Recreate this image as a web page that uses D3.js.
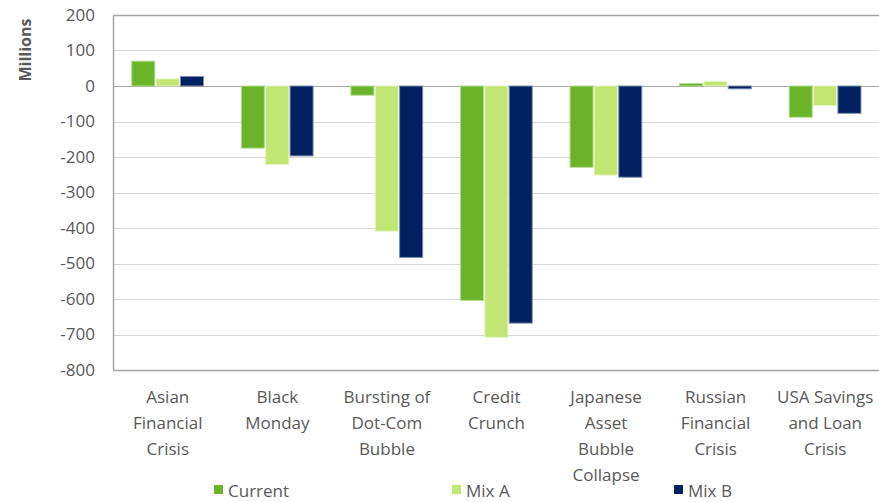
<!DOCTYPE html>
<html>
<head>
<meta charset="utf-8">
<script src="https://cdn.jsdelivr.net/npm/d3@7"></script>
<style>
  body { margin: 0; background: #fff; }
  text { font-family: 'Open Sans', 'Noto Sans', sans-serif; fill: #595959; }
</style>
</head>
<body>
<script>
const categories = ['Asian Financial Crisis', 'Black Monday', 'Bursting of Dot-Com Bubble',
  'Credit Crunch', 'Japanese Asset Bubble Collapse', 'Russian Financial Crisis', 'USA Savings and Loan Crisis']
const labelLines = [
  ['Asian', 'Financial', 'Crisis'],
  ['Black', 'Monday'],
  ['Bursting of', 'Dot-Com', 'Bubble'],
  ['Credit', 'Crunch'],
  ['Japanese', 'Asset', 'Bubble', 'Collapse'],
  ['Russian', 'Financial', 'Crisis'],
  ['USA Savings', 'and Loan', 'Crisis'],
]
const seriesNames = ['Current', 'Mix A', 'Mix B']
const current = [70, -175, -26, -604, -229, 7, -88]
const mixA = [20, -221, -409, -708, -251, 13, -55]
const mixB = [27, -197, -483, -668, -257, -8, -77]
const yTicks = [200, 100, 0, -100, -200, -300, -400, -500, -600, -700, -800]

const colors = ['#6bb42a', '#c2e673', '#002060']
const strokes = ['#b5dc94', '#e4f4c0', '#7f90b0']

const WIDTH = 879
const HEIGHT = 502
const plot = { left: 113, right: 880, top: 15, bottom: 370 }

const svg = d3.select('body')
  .append('svg')
  .attr('width', WIDTH)
  .attr('height', HEIGHT)

const x0 = d3.scaleBand()
  .domain(categories)
  .range([plot.left, plot.right])
  .paddingInner(0.333)
  .paddingOuter(0.1665)

const x1 = d3.scaleBand()
  .domain(seriesNames)
  .range([0, x0.bandwidth()])

const y = d3.scaleLinear()
  .domain([-800, 200])
  .range([plot.bottom, plot.top])

// gridlines
svg.append('g')
  .selectAll('line')
  .data(yTicks)
  .enter()
  .append('line')
  .attr('x1', plot.left)
  .attr('x2', plot.right)
  .attr('y1', d => Math.round(y(d)) + 0.5)
  .attr('y2', d => Math.round(y(d)) + 0.5)
  .attr('stroke', d => (d == 0 || d == 200 || d == -800) ? '#a6a6a6' : '#d9d9d9')
  .attr('stroke-width', d => (d == 200 || d == -800) ? 1.5 : 1)

const yAxis = d3.axisLeft(y)
  .tickValues(yTicks)
  .tickFormat(d => String(d))
  .tickSize(0)
  .tickPadding(18)

svg.append('g')
  .attr('transform', 'translate(' + plot.left + ',0)')
  .call(yAxis)
  .call(g => g.select('.domain').attr('stroke', '#a6a6a6').attr('stroke-width', 1.5))
  .call(g => g.selectAll('text').style('font-size', '17px').attr('fill', '#595959'))

svg.append('text')
  .attr('transform', 'translate(31,50) rotate(-90)')
  .attr('text-anchor', 'middle')
  .style('font-size', '16px')
  .style('font-weight', 'bold')
  .text('Millions')

// bars
const table = categories.map((c, i) => ({
  cat: c,
  values: [current[i], mixA[i], mixB[i]],
}))

const groups = svg.append('g')
  .selectAll('g')
  .data(table)
  .enter()
  .append('g')
  .attr('transform', d => 'translate(' + x0(d.cat) + ',0)')

groups.selectAll('rect')
  .data(d => d.values.map((v, j) => ({ v: v, s: seriesNames[j], j: j })))
  .enter()
  .append('rect')
  .attr('x', d => x1(d.s) + 0.5)
  .attr('width', x1.bandwidth() - 1.3)
  .attr('y', d => y(Math.max(0, d.v)))
  .attr('height', d => Math.abs(y(d.v) - y(0)))
  .attr('fill', d => colors[d.j])
  .attr('stroke', d => strokes[d.j])
  .attr('stroke-width', 1)

// category labels
const labels = svg.append('g')
  .selectAll('text')
  .data(categories)
  .enter()
  .append('text')
  .attr('text-anchor', 'middle')
  .attr('x', d => x0(d) + x0.bandwidth() / 2)
  .attr('y', 403)
  .style('font-size', '17px')

labels.selectAll('tspan')
  .data((d, i) => labelLines[i])
  .enter()
  .append('tspan')
  .attr('x', function () { return this.parentNode.getAttribute('x') })
  .attr('dy', (d, i) => i == 0 ? 0 : 26)
  .text(d => d)

// legend
const legendX = [214, 452, 674]
const legend = svg.append('g')

legend.selectAll('rect')
  .data(seriesNames)
  .enter()
  .append('rect')
  .attr('x', (d, i) => legendX[i])
  .attr('y', 485)
  .attr('width', 9)
  .attr('height', 9)
  .attr('fill', (d, i) => colors[i])

legend.selectAll('text')
  .data(seriesNames)
  .enter()
  .append('text')
  .attr('x', (d, i) => legendX[i] + 14)
  .attr('y', 497)
  .style('font-size', '17px')
  .text(d => d)
</script>
</body>
</html>
